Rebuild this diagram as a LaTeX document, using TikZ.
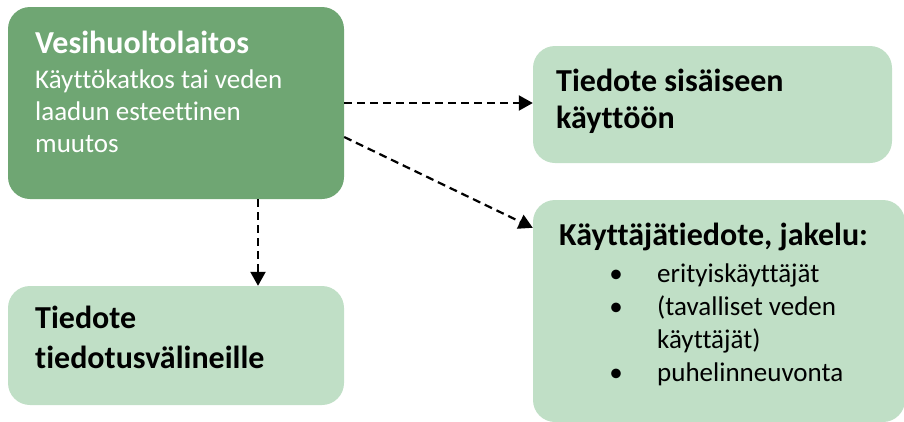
\documentclass[tikz,border=0pt]{standalone}
\usepackage{fontspec}
\setmainfont{Carlito}[Ligatures=NoCommon]
\usetikzlibrary{arrows.meta,calc}
\definecolor{darkgr}{HTML}{6FA673}
\definecolor{lightgr}{HTML}{C0DFC6}
\tikzset{
  box/.style={rounded corners=22pt, inner sep=0pt, draw=none},
  dbox/.style={box, fill=darkgr},
  lbox/.style={box, fill=lightgr},
  conn/.style={line width=2.2pt, dash pattern=on 8pt off 5pt, -{Triangle[length=14pt,width=15pt]}},
  head/.style={anchor=base west, inner sep=0pt, font=\fontsize{32}{38}\selectfont\bfseries},
  body/.style={anchor=base west, inner sep=0pt, font=\fontsize{27}{32}\selectfont},
  bul/.style={anchor=base, inner sep=0pt, font=\fontsize{27}{32}\selectfont},
}
\begin{document}
\begin{tikzpicture}[x=1pt,y=-1pt]
\useasboundingbox (0,0) rectangle (904,421);
\node[dbox, minimum width=336pt, minimum height=192pt] (b1) at (176,103) {};
\node[lbox, minimum width=359pt, minimum height=117pt] (b2) at (712.5,104.5) {};
\node[lbox, minimum width=372pt, minimum height=222pt] (b3) at (719,311) {};
\node[lbox, minimum width=336pt, minimum height=119pt] (b4) at (176,345.5) {};
% texts
\node[head, text=white] (t1) at (35,53) {Vesihuoltolaitos};
\node[body, text=white] (t2) at (35,88) {Käyttökatkos tai veden};
\node[body, text=white] (t3) at (35,120) {laadun esteettinen};
\node[body, text=white] (t4) at (35,152) {muutos};
\node[head] (t5) at (556,91) {Tiedote sisäiseen};
\node[head] (t6) at (556,128) {käyttöön};
\node[head] (t7) at (559,245) {Käyttäjätiedote, jakelu:};
\node[bul] (u1) at (616,282) {•};
\node[bul] (u2) at (616,315) {•};
\node[bul] (u3) at (616,381) {•};
\node[body] (i1) at (657,282) {erityiskäyttäjät};
\node[body] (i2) at (657,315) {(tavalliset veden};
\node[body] (i3) at (657,348) {käyttäjät)};
\node[body] (i4) at (657,381) {puhelinneuvonta};
\node[head] (t8) at (35,328) {Tiedote};
\node[head] (t9) at (35,368) {tiedotusvälineille};
% connectors
\draw[conn] (b1.east) -- (b1.east -| b2.west);
\draw[conn] ([yshift=-34pt]b1.east) -- ([yshift=-28pt]b3.north west);
\draw[conn] ([xshift=82pt]b1.south) -- ([xshift=82pt]b1.south |- b4.north);
\end{tikzpicture}
\end{document}
